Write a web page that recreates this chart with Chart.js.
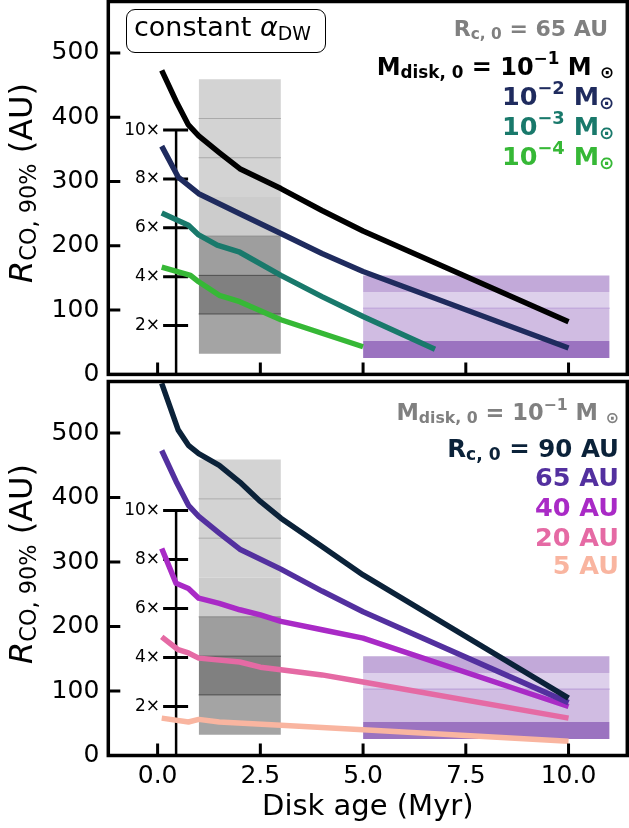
<!DOCTYPE html>
<html>
<head>
<meta charset="utf-8">
<script src="https://cdn.jsdelivr.net/npm/chart.js@4.4.1/dist/chart.umd.min.js"></script>
<style>
  html, body { margin: 0; padding: 0; background: #fff; }
  body { width: 629px; height: 828px; position: relative; overflow: hidden; font-family: "DejaVu Sans", sans-serif; }
  .wrap { position: absolute; left: 0; }
  .wrap canvas { position: absolute; left: 0; top: 0; }
  .lg { position: absolute; font-weight: bold; white-space: nowrap; text-align: right; }
  .sb { font-size: 0.7em; position: relative; top: 0.22em; }
  .sp { font-size: 0.7em; position: relative; top: -0.62em; }
  .ylab { position: absolute; font-size: 32px; line-height: 32px; white-space: nowrap; transform: translate(-50%, -50%) rotate(-90deg); }
  .ylab .sb { font-size: 0.7em; top: 0.2em; }
  #alpha { position: absolute; left: 126px; top: 9px; width: 200px; height: 44px; box-sizing: border-box;
           border: 1.8px solid #000; border-radius: 9px; background: #fff; font-size: 27px; line-height: 27px;
           padding: 3px 0 0 7px; white-space: nowrap; }
</style>
</head>
<body>
<div class="wrap" style="top:0; width:629px; height:400px;"><canvas id="chartTop" width="629" height="400"></canvas></div>
<div class="wrap" style="top:378px; width:629px; height:450px;"><canvas id="chartBottom" width="629" height="450"></canvas></div>

<div id="alpha">constant <i>α</i><span class="sb">DW</span></div>

<div class="ylab" style="left:22px; top:183px;"><i>R</i><span class="sb">CO, 90%</span> (AU)</div>
<div class="ylab" style="left:22px; top:564px;"><i>R</i><span class="sb">CO, 90%</span> (AU)</div>

<!-- top panel legend -->
<div class="lg" style="right:21px; top:18px; font-size:22px; line-height:22px; color:#808080;">R<span class="sb">c, 0</span> = 65 AU</div>
<div class="lg" style="right:15px; top:54.7px; font-size:24px; line-height:24px; color:#000;">M<span class="sb">disk, 0</span> = 10<span class="sp">−1</span> M <span class="sb">⊙</span></div>
<div class="lg" style="right:15px; top:83.8px; font-size:25.5px; line-height:25.5px; color:#1f2b5e;">10<span class="sp">−2</span> M<span class="sb">⊙</span></div>
<div class="lg" style="right:15px; top:113.8px; font-size:25.5px; line-height:25.5px; color:#19796b;">10<span class="sp">−3</span> M<span class="sb">⊙</span></div>
<div class="lg" style="right:15px; top:143.8px; font-size:25.5px; line-height:25.5px; color:#36b836;">10<span class="sp">−4</span> M<span class="sb">⊙</span></div>

<!-- bottom panel legend -->
<div class="lg" style="right:10px; top:400.7px; font-size:22.5px; line-height:22.5px; color:#808080;">M<span class="sb">disk, 0</span> = 10<span class="sp">−1</span> M <span class="sb">⊙</span></div>
<div class="lg" style="right:10px; top:436.7px; font-size:24.5px; line-height:24.5px; color:#0b2239;">R<span class="sb">c, 0</span> = 90 AU</div>
<div class="lg" style="right:10px; top:464.7px; font-size:25.5px; line-height:25.5px; color:#53309f;">65 AU</div>
<div class="lg" style="right:10px; top:494.7px; font-size:25.5px; line-height:25.5px; color:#a92ac6;">40 AU</div>
<div class="lg" style="right:10px; top:524.7px; font-size:25.5px; line-height:25.5px; color:#e56aa4;">20 AU</div>
<div class="lg" style="right:10px; top:553.1px; font-size:25.5px; line-height:25.5px; color:#f9b5a0;">5 AU</div>

<script>
// axis ticks
const xTicks = [0, 2.5, 5, 7.5, 10];
const yTicks = [0, 100, 200, 300, 400, 500];
const xMin = -1.2, xMax = 11.43, yMax = 580;

// inset size scale (multiples)
const insetAge = 0.45;
const insetTicks = [76, 152, 228, 304, 380];
const insetLabels = ['2×', '4×', '6×', '8×', '10×'];

// top panel: varying initial disk mass, Rc,0 = 65 AU
const ageM1 = [0.1, 0.45, 0.75, 1.0, 1.5, 2.0, 3.0, 4.0, 5.0, 10.0];
const rM1 = [473, 425, 388, 371, 345, 320, 289, 255, 223, 82];
const ageM2 = [0.1, 0.5, 1.0, 2.0, 3.0, 4.0, 5.0, 10.0];
const rM2 = [355, 307, 281, 250, 219, 188, 160, 41];
const ageM3 = [0.1, 0.75, 1.0, 1.45, 2.0, 3.0, 4.0, 5.0, 6.75];
const rM3 = [251, 232, 217, 201, 190, 154, 121, 90, 39];
const ageM4 = [0.1, 0.8, 1.0, 1.5, 2.0, 3.0, 4.0, 5.0];
const rM4 = [167, 154, 144, 123, 113, 85, 64, 43];

// bottom panel: varying Rc,0, Mdisk,0 = 0.1 Msun (65 AU is the same model as rM1)
const ageR90 = [0.1, 0.5, 0.75, 1.0, 1.5, 2.0, 2.5, 3.0, 4.0, 5.0, 10.0];
const rR90 = [577, 505, 481, 468, 450, 424, 394, 368, 324, 280, 89];
const ageR40 = [0.1, 0.45, 0.75, 1.0, 1.5, 2.0, 2.5, 3.0, 4.0, 5.0, 10.0];
const rR40 = [321, 267, 259, 244, 236, 226, 218, 208, 195, 182, 76];
const ageR20 = [0.1, 0.5, 0.75, 1.0, 2.0, 2.5, 3.0, 4.0, 5.0, 10.0];
const rR20 = [184, 164, 159, 151, 145, 137, 133, 125, 114, 58];
const ageR5 = [0.1, 0.75, 1.0, 1.5, 3.0, 5.0, 10.0];
const rR5 = [58, 52, 56, 52, 47, 40, 22];

// observed size ranges (young regions, Upper Sco)
const grayAge = [1, 3];
const grayEdges = [32, 94, 154, 215, 276, 337, 398, 459];
const grayFills = ['#a4a4a4', '#808080', '#9e9e9e', '#cccccc', '#d3d3d3', '#d3d3d3', '#d3d3d3'];
const grayLines = ['#4d4d4d', '#4d4d4d', '#888888', null, '#aaaaaa', '#aaaaaa', null];
const purpleAge = [5, 11];
const purpleEdges = [25.5, 52, 103, 128, 154];
const purpleFills = ['#9b73c0', '#d0bce2', '#ddd0eb', '#c2a9d9'];
const purpleLines = [null, '#b89cd6', null, null];

Chart.defaults.font.family = '"DejaVu Sans", sans-serif';
Chart.defaults.color = '#000';

function lineSet(ages, radii, color) {
  return {
    data: ages.map((t, i) => ({x: t, y: radii[i]})),
    borderColor: color,
    borderWidth: 5.5,
    pointRadius: 0,
    fill: false,
    tension: 0,
    borderCapStyle: 'butt',
    borderJoinStyle: 'round',
    order: 0
  };
}

function bandSets(ages, edges, fills, lines) {
  return fills.map((c, i) => ({
    data: ages.map(t => ({x: t, y: edges[i + 1]})),
    fill: {value: edges[i]},
    backgroundColor: c,
    borderColor: lines[i] || 'rgba(0,0,0,0)',
    borderWidth: lines[i] ? 1 : 0,
    pointRadius: 0,
    tension: 0,
    order: 2
  }));
}

function drawInset(chart) {
  const {ctx, chartArea: a, scales: {x, y}} = chart;
  const px = x.getPixelForValue(insetAge);
  ctx.save();
  ctx.strokeStyle = '#000';
  ctx.lineWidth = 2.5;
  ctx.beginPath();
  ctx.moveTo(px, y.getPixelForValue(insetTicks[insetTicks.length - 1]));
  ctx.lineTo(px, a.bottom);
  ctx.stroke();
  ctx.lineWidth = 3;
  ctx.beginPath();
  insetTicks.forEach(v => {
    const py = y.getPixelForValue(v);
    ctx.moveTo(px - 13, py);
    ctx.lineTo(px + 12, py);
  });
  ctx.stroke();
  ctx.fillStyle = '#000';
  ctx.font = '17px "DejaVu Sans"';
  ctx.textAlign = 'right';
  ctx.textBaseline = 'middle';
  insetTicks.forEach((v, i) => ctx.fillText(insetLabels[i], px - 16, y.getPixelForValue(v)));
  ctx.restore();
}

const framePlugin = {
  id: 'frame',
  beforeDatasetsDraw(chart) {
    drawInset(chart);
  },
  afterDatasetsDraw(chart) {
    const {ctx, chartArea: a, scales: {x, y}} = chart;
    ctx.save();
    ctx.strokeStyle = '#000';
    ctx.lineWidth = 3;
    ctx.beginPath();
    yTicks.forEach(v => {
      const py = y.getPixelForValue(v);
      ctx.moveTo(a.left, py);
      ctx.lineTo(a.left + 12, py);
    });
    xTicks.forEach(v => {
      const px = x.getPixelForValue(v);
      ctx.moveTo(px, a.bottom);
      ctx.lineTo(px, a.bottom - 12);
    });
    ctx.stroke();
    ctx.lineWidth = 3.5;
    ctx.strokeRect(a.left, a.top, a.right - a.left, a.bottom - a.top);
    ctx.restore();
  }
};

// drop the label overhang padding so the plot area follows layout.padding exactly
function noOverhang(s) {
  s.paddingTop = 0;
  s.paddingBottom = 0;
  s.paddingLeft = 0;
  s.paddingRight = 0;
}

function makeChart(id, datasets, padTop, padBottom, xHeight, showX) {
  return new Chart(document.getElementById(id), {
    type: 'line',
    data: {datasets: datasets},
    plugins: [framePlugin],
    options: {
      responsive: false,
      animation: false,
      events: [],
      layout: {padding: {top: padTop, right: 1.7, bottom: padBottom, left: 0}},
      plugins: {legend: {display: false}, tooltip: {enabled: false}},
      scales: {
        x: {
          type: 'linear',
          min: xMin,
          max: xMax,
          afterBuildTicks: s => { s.ticks = xTicks.map(v => ({value: v})); },
          afterFit: s => { s.height = xHeight; noOverhang(s); },
          grid: {display: false, drawTicks: false},
          border: {display: false},
          ticks: {
            display: showX,
            padding: 6,
            maxRotation: 0,
            autoSkip: false,
            font: {size: 25},
            callback: v => v.toFixed(1)
          },
          title: {
            display: showX,
            text: 'Disk age (Myr)',
            font: {size: 29},
            padding: {top: 0, bottom: 3}
          }
        },
        y: {
          type: 'linear',
          min: 0,
          max: yMax,
          afterBuildTicks: s => { s.ticks = yTicks.map(v => ({value: v})); },
          afterFit: s => { s.width = 108.3; noOverhang(s); },
          grid: {display: false, drawTicks: false},
          border: {display: false},
          ticks: {padding: 9, font: {size: 25}}
        }
      }
    }
  });
}

makeChart('chartTop', [
  lineSet(ageM1, rM1, '#000000'),
  lineSet(ageM2, rM2, '#1f2b5e'),
  lineSet(ageM3, rM3, '#19796b'),
  lineSet(ageM4, rM4, '#36b836'),
  ...bandSets(grayAge, grayEdges, grayFills, grayLines),
  ...bandSets(purpleAge, purpleEdges, purpleFills, purpleLines)
], 1.5, 25.6, 0, false);

makeChart('chartBottom', [
  lineSet(ageR90, rR90, '#0b2239'),
  lineSet(ageM1, rM1, '#53309f'),
  lineSet(ageR40, rR40, '#a92ac6'),
  lineSet(ageR20, rR20, '#e56aa4'),
  lineSet(ageR5, rR5, '#f9b5a0'),
  ...bandSets(grayAge, grayEdges, grayFills, grayLines),
  ...bandSets(purpleAge, purpleEdges, purpleFills, purpleLines)
], 3.5, 0, 72.5, true);
</script>
</body>
</html>
